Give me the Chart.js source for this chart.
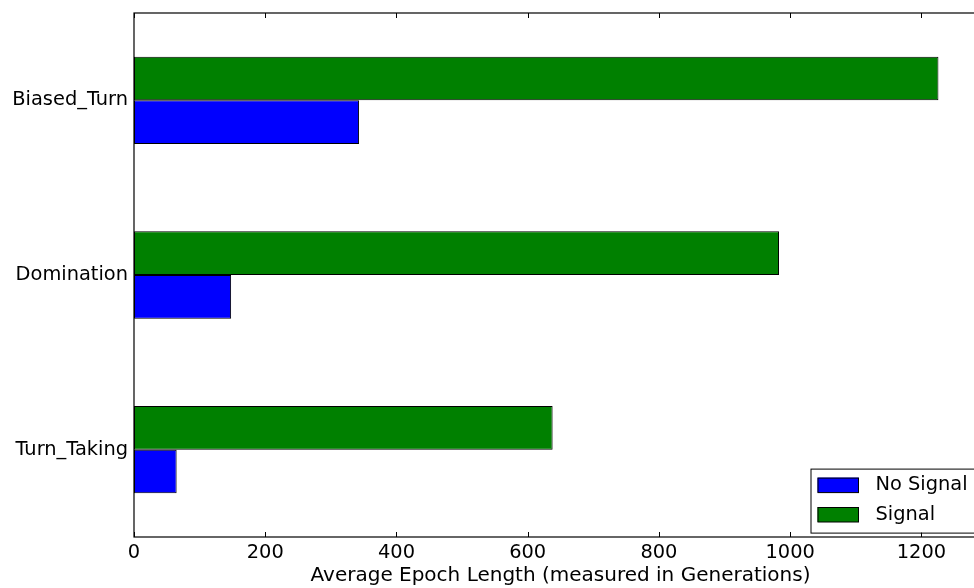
<!DOCTYPE html>
<html>
<head>
<meta charset="utf-8">
<title>Average Epoch Length</title>
<script src="https://cdn.jsdelivr.net/npm/chart.js@4.4.1/dist/chart.umd.min.js"></script>
<style>
  html, body { margin: 0; padding: 0; background: #fff; overflow: hidden; }
  #wrap { position: relative; width: 1000px; height: 588px; }
</style>
</head>
<body>
<div id="wrap"><canvas id="chart" width="1000" height="588"></canvas></div>
<script>
// Outcome categories, listed top to bottom
const categories = ['Biased_Turn', 'Domination', 'Turn_Taking'];
// Average epoch length per category
const noSignal = [343, 148, 65];
const signal = [1226, 983, 638];
// Series names
const seriesNames = ['No Signal', 'Signal'];
// Value axis ticks
const xTicks = [0, 200, 400, 600, 800, 1000, 1200];
const xMax = 1300;

const FONT = { family: 'DejaVu Sans', size: 19.4 };
const TITLE_FONT = { family: 'DejaVu Sans', size: 20 };
const BLUE = '#0000ff';
const GREEN = '#008000';

// Axes frame, inward tick marks and the boxed legend in the lower right
const framePlugin = {
  id: 'frame',
  afterDraw(chart) {
    const { ctx, chartArea: ca, scales } = chart;
    const x = scales.x;
    ctx.save();
    ctx.strokeStyle = '#000';
    ctx.lineWidth = 1.2;
    ctx.strokeRect(ca.left, ca.top, ca.right - ca.left, ca.bottom - ca.top);
    ctx.lineWidth = 1;
    ctx.beginPath();
    xTicks.forEach(v => {
      const px = Math.round(x.getPixelForValue(v)) + 0.5;
      ctx.moveTo(px, ca.bottom);
      ctx.lineTo(px, ca.bottom - 5);
      ctx.moveTo(px, ca.top);
      ctx.lineTo(px, ca.top + 5);
    });
    ctx.stroke();

    // legend box
    const right = ca.right - 5, bottom = ca.bottom - 4.4;
    const w = 171.5, h = 64;
    const left = right - w, top = bottom - h;
    ctx.fillStyle = '#fff';
    ctx.fillRect(left, top, w, h);
    ctx.strokeStyle = '#000';
    ctx.lineWidth = 1;
    ctx.strokeRect(left + 0.5, top + 0.5, w, h);
    const entries = [
      { label: seriesNames[0], color: BLUE },
      { label: seriesNames[1], color: GREEN }
    ];
    ctx.font = FONT.size + 'px ' + FONT.family;
    ctx.textBaseline = 'middle';
    ctx.textAlign = 'left';
    entries.forEach((e, i) => {
      const cy = top + 16.5 + i * 29.4;
      ctx.fillStyle = e.color;
      ctx.fillRect(left + 7, cy - 7.5, 41.3, 15);
      ctx.strokeRect(left + 7.5, cy - 7, 40.5, 14.5);
      ctx.fillStyle = '#000';
      ctx.fillText(e.label, left + 65, cy);
    });
    ctx.restore();
  }
};

new Chart(document.getElementById('chart'), {
  type: 'bar',
  data: {
    labels: categories,
    datasets: [
      { label: seriesNames[1], data: signal, backgroundColor: GREEN,
        borderColor: '#000', borderWidth: 1, borderSkipped: false },
      { label: seriesNames[0], data: noSignal, backgroundColor: BLUE,
        borderColor: '#000', borderWidth: 1, borderSkipped: false }
    ]
  },
  options: {
    indexAxis: 'y',
    responsive: false,
    animation: false,
    categoryPercentage: 0.5,
    barPercentage: 1.0,
    layout: { padding: { left: 0, top: 13, right: 13, bottom: 0 } },
    plugins: { legend: { display: false }, tooltip: { enabled: false } },
    scales: {
      x: {
        type: 'linear',
        min: 0,
        max: xMax,
        afterBuildTicks: s => { s.ticks = xTicks.map(v => ({ value: v })); },
        afterFit: s => { s.height = 51; s.paddingLeft = 0; s.paddingRight = 0; },
        grid: { display: false, drawTicks: false },
        border: { display: false },
        ticks: { color: '#000', font: FONT, padding: 4, maxRotation: 0,
                 callback: v => String(v) },
        title: {
          display: true,
          text: 'Average Epoch Length (measured in Generations)',
          color: '#000',
          font: TITLE_FONT,
          padding: { top: 0, bottom: 0 }
        }
      },
      y: {
        type: 'category',
        afterFit: s => { s.width = 134; s.paddingTop = 0; s.paddingBottom = 0; },
        grid: { display: false, drawTicks: false },
        border: { display: false },
        ticks: { color: '#000', font: FONT, padding: 6 }
      }
    }
  },
  plugins: [framePlugin]
});
</script>
</body>
</html>
